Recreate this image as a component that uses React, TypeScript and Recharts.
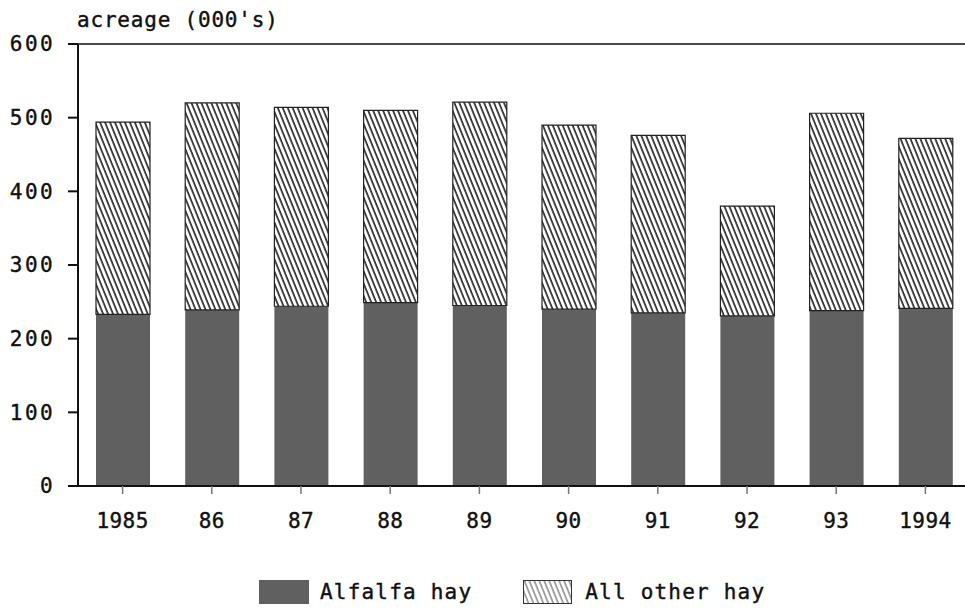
import React from "react";
import { BarChart, Bar, XAxis, YAxis, ReferenceLine } from "recharts";

const years = ["1985", "86", "87", "88", "89", "90", "91", "92", "93", "1994"];
const alfalfaHay = [233, 239, 244, 249, 245, 240, 235, 231, 238, 241];
const otherHay = [261, 281, 270, 261, 276, 250, 241, 149, 268, 231];
const yTicks = [0, 100, 200, 300, 400, 500, 600];

const data = years.map((year, i) => ({
  year,
  alfalfa: alfalfaHay[i],
  other: otherHay[i],
}));

const FONT = "'DejaVu Sans Mono', monospace";
const DARK = "#606060";

function Swatch({ hatched }: { hatched?: boolean }) {
  return (
    <svg width={50} height={24} style={{ display: "block" }}>
      <defs>
        <pattern
          id="legendHatch"
          width={4.6}
          height={10}
          patternUnits="userSpaceOnUse"
          patternTransform="rotate(-22)"
        >
          <line x1={1} y1={0} x2={1} y2={10} stroke="#8a8a8a" strokeWidth={1.5} />
        </pattern>
      </defs>
      {hatched ? (
        <rect x={0.5} y={0.5} width={48} height={23} fill="url(#legendHatch)" stroke="#333" strokeWidth={1} />
      ) : (
        <rect x={0} y={0} width={50} height={24} fill={DARK} />
      )}
    </svg>
  );
}

export default function App() {
  return (
    <div
      style={{
        position: "absolute",
        left: 0,
        top: 0,
        width: 965,
        height: 609,
        overflow: "hidden",
        background: "#fff",
      }}
    >
      <div
        style={{
          position: "absolute",
          left: 77,
          top: 8,
          fontFamily: FONT,
          fontSize: 21,
          letterSpacing: 0.8,
          color: "#111",
          WebkitTextStroke: "0.4px #111",
        }}
      >
        acreage (000's)
      </div>
      <BarChart
        width={975}
        height={609}
        data={data}
        margin={{ top: 44, right: 5, bottom: 83, left: 0 }}
        barCategoryGap={0}
      >
        <defs>
          <pattern
            id="hatch"
            width={4.6}
            height={10}
            patternUnits="userSpaceOnUse"
            patternTransform="rotate(-22)"
          >
            <rect width={4.6} height={10} fill="#fff" />
            <line x1={1} y1={0} x2={1} y2={10} stroke="#111" strokeWidth={1.5} />
          </pattern>
        </defs>
        <XAxis
          dataKey="year"
          height={40}
          tickSize={8}
          tickMargin={19}
          axisLine={{ stroke: "#111", strokeWidth: 2 }}
          tickLine={{ stroke: "#777", strokeWidth: 1.5 }}
          tick={{ fontFamily: FONT, fontSize: 21, fill: "#111", stroke: "#111", strokeWidth: 0.4, letterSpacing: 0.4 }}
        />
        <YAxis
          width={78}
          domain={[0, 600]}
          ticks={yTicks}
          interval={0}
          tickSize={10}
          tickMargin={13}
          axisLine={{ stroke: "#111", strokeWidth: 2 }}
          tickLine={{ stroke: "#111", strokeWidth: 2 }}
          tick={{ fontFamily: FONT, fontSize: 21, fill: "#111", stroke: "#111", strokeWidth: 0.4, letterSpacing: 2.4 }}
        />
        <ReferenceLine y={600} stroke="#111" strokeWidth={1.5} />
        <Bar
          dataKey="alfalfa"
          name="Alfalfa hay"
          stackId="hay"
          fill={DARK}
          barSize={54}
          isAnimationActive={false}
        />
        <Bar
          dataKey="other"
          name="All other hay"
          stackId="hay"
          fill="url(#hatch)"
          stroke="#222"
          strokeWidth={1.2}
          barSize={54}
          isAnimationActive={false}
        />
      </BarChart>
      <div
        style={{
          position: "absolute",
          left: 259,
          top: 580,
          display: "flex",
          alignItems: "center",
          fontFamily: FONT,
          fontSize: 21,
          letterSpacing: 1.2,
          color: "#111",
          WebkitTextStroke: "0.4px #111",
        }}
      >
        <Swatch />
        <span style={{ marginLeft: 11, marginRight: 51 }}>Alfalfa hay</span>
        <Swatch hatched />
        <span style={{ marginLeft: 12 }}>All other hay</span>
      </div>
    </div>
  );
}
